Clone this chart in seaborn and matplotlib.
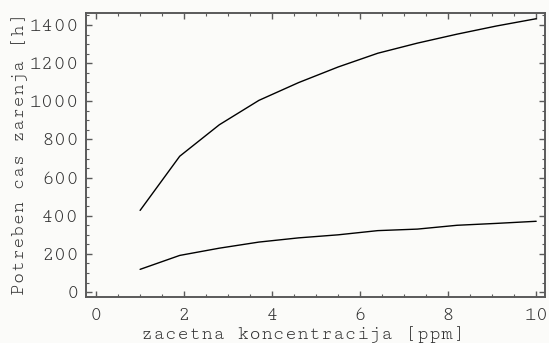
import matplotlib
matplotlib.use("Agg")
import matplotlib.pyplot as plt
import seaborn as sns
import pandas as pd
from matplotlib.ticker import MultipleLocator

# initial concentration [ppm]
concentration = [1.0, 1.9, 2.8, 3.7, 4.6, 5.5, 6.4, 7.3, 8.2, 9.1, 10.0]
# required irradiation time [h]
time_upper = [428, 712, 877, 1005, 1098, 1180, 1252, 1305, 1352, 1395, 1433]
time_lower = [119, 192, 230, 262, 284, 300, 322, 330, 350, 360, 371]

x_ticks = [0, 2, 4, 6, 8, 10]
y_ticks = [0, 200, 400, 600, 800, 1000, 1200, 1400]

sns.set_theme(style="ticks")
plt.rcParams["font.family"] = ["Cutive Mono", "Liberation Mono", "DejaVu Sans Mono"]

bg = "#fbfbf9"
frame = "#5a5a5a"
text_col = "#303030"

fig = plt.figure(figsize=(5.49, 3.43), dpi=100, facecolor=bg)
ax = fig.add_axes([0.1566, 0.1341, 0.8361, 0.828])
ax.set_facecolor(bg)

df = pd.DataFrame({
    "c": concentration * 2,
    "t": time_upper + time_lower,
    "s": ["upper"] * len(concentration) + ["lower"] * len(concentration),
})
sns.lineplot(data=df, x="c", y="t", units="s", estimator=None,
             color="black", linewidth=1.0, legend=False, ax=ax)

ax.set_xlim(-0.23, 10.2)
ax.set_ylim(-26, 1463)
ax.set_xticks(x_ticks)
ax.set_yticks(y_ticks)
ax.xaxis.set_minor_locator(MultipleLocator(0.5))
ax.yaxis.set_minor_locator(MultipleLocator(50))

ax.tick_params(which="both", direction="in", top=True, right=True,
               color=frame, labelcolor=text_col, labelsize=15)
ax.tick_params(axis="x", which="major", pad=8)
ax.tick_params(axis="y", which="major", pad=5)
ax.tick_params(which="major", length=4.5, width=1.0)
ax.tick_params(which="minor", length=2.5, width=0.8)

for side in ["left", "bottom", "right", "top"]:
    ax.spines[side].set_visible(True)
    ax.spines[side].set_color(frame)
    ax.spines[side].set_linewidth(1.4)

ax.set_xlabel("zacetna koncentracija [ppm]", fontsize=14.3, color=text_col, va="center")
ax.xaxis.set_label_coords(0.473, -0.133)
ax.set_ylabel("Potreben cas zarenja [h]", fontsize=14, color=text_col, va="center")
ax.yaxis.set_label_coords(-0.144, 0.503)

fig.savefig("out.png", dpi=100, facecolor=bg)
